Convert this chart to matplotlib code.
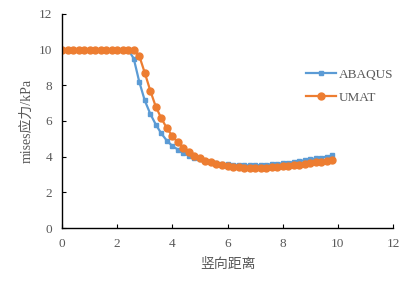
import numpy as np
import matplotlib.pyplot as plt

# distance along the vertical path
x = [0.0, 0.2, 0.4, 0.6, 0.8, 1.0, 1.2, 1.4, 1.6, 1.8, 2.0, 2.2, 2.4, 2.6, 2.8,
     3.0, 3.2, 3.4, 3.6, 3.8, 4.0, 4.2, 4.4, 4.6, 4.8, 5.0, 5.2, 5.4, 5.6, 5.8,
     6.0, 6.2, 6.4, 6.6, 6.8, 7.0, 7.2, 7.4, 7.6, 7.8, 8.0, 8.2, 8.4, 8.6, 8.8,
     9.0, 9.2, 9.4, 9.6, 9.8]

abaqus = [10, 10, 10, 10, 10, 10, 10, 10, 10, 10, 10, 10, 10, 9.5, 8.2,
          7.15, 6.4, 5.8, 5.3, 4.9, 4.6, 4.4, 4.2, 4.05, 3.95, 3.85, 3.78, 3.7, 3.65, 3.6,
          3.57, 3.55, 3.53, 3.52, 3.52, 3.52, 3.53, 3.55, 3.58, 3.6, 3.63, 3.67, 3.7, 3.75, 3.8,
          3.85, 3.9, 3.95, 4.0, 4.07]

umat = [10, 10, 10, 10, 10, 10, 10, 10, 10, 10, 10, 10, 10, 10, 9.65,
        8.7, 7.7, 6.8, 6.15, 5.6, 5.15, 4.8, 4.5, 4.25, 4.05, 3.9, 3.78, 3.68, 3.6, 3.53,
        3.48, 3.44, 3.41, 3.39, 3.38, 3.38, 3.38, 3.39, 3.4, 3.42, 3.45, 3.48, 3.52, 3.56, 3.6,
        3.64, 3.68, 3.72, 3.76, 3.8]

blue = "#5B9BD5"
orange = "#ED7D31"
grey = "#595959"

fig = plt.figure(figsize=(4.19, 2.84), dpi=100)
ax = fig.add_axes([0.148, 0.197, 0.79, 0.754])

ax.plot(x, abaqus, color=blue, lw=1.6, marker="s", ms=3.5, label="ABAQUS")
ax.plot(x, umat, color=orange, lw=1.6, marker="o", ms=5, label="UMAT")

ax.set_xlim(0, 12)
ax.set_ylim(0, 12)
ax.set_xticks(range(0, 13, 2))
ax.set_yticks(range(0, 13, 2))

for s in ["top", "right"]:
    ax.spines[s].set_visible(False)
for s in ["left", "bottom"]:
    ax.spines[s].set_linewidth(1.0)
    ax.spines[s].set_color("black")

ax.tick_params(direction="in", length=3, width=0.8, labelsize=9.5, labelcolor=grey, pad=7)
for lab in ax.get_xticklabels() + ax.get_yticklabels():
    lab.set_family("Liberation Serif")

ax.set_xlabel("竖向距离", family=["Noto Sans CJK SC", "DejaVu Sans"], fontsize=10, color=grey, labelpad=5)
ax.set_ylabel("mises应力/kPa", family=["Liberation Serif", "Noto Sans CJK SC"], fontsize=10, color=grey, labelpad=4)

leg = ax.legend(loc="upper left", bbox_to_anchor=(0.7, 0.8), frameon=False, fontsize=9.5,
                handlelength=2.3, handletextpad=0.2, labelspacing=0.8)
for t in leg.get_texts():
    t.set_family("Liberation Serif")
    t.set_color(grey)

fig.savefig("out.png", dpi=100)
